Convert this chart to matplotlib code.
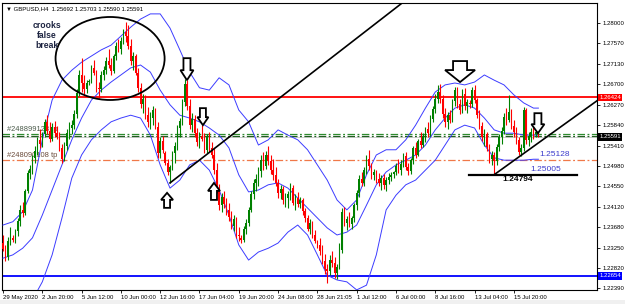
import matplotlib
matplotlib.use("Agg")
import matplotlib.pyplot as plt
import numpy as np
from matplotlib.patches import Ellipse, Polygon

# GBPUSD H4, 29 May 2020 08:00 .. 17 Jul 2020 12:00 (one short Sunday bar per weekend)
opens = [
    1.2335, 1.2322, 1.2305, 1.2340, 1.2345,
    1.2342, 1.2360, 1.2382, 1.2405, 1.2398, 1.2445,
    1.2482, 1.2492, 1.2515, 1.2530, 1.2552, 1.2545,
    1.2565, 1.2590, 1.2572, 1.2555, 1.2580, 1.2568,
    1.2562, 1.2535, 1.2512, 1.2540, 1.2568, 1.2578,
    1.2585, 1.2608, 1.2652, 1.2690, 1.2672, 1.2660, 1.2675,
    1.2678, 1.2705, 1.2695, 1.2662, 1.2660, 1.2690,
    1.2700, 1.2720, 1.2712, 1.2698, 1.2730, 1.2752,
    1.2745, 1.2762, 1.2780, 1.2772, 1.2752, 1.2720,
    1.2730, 1.2695, 1.2662, 1.2628, 1.2640, 1.2605,
    1.2590, 1.2600, 1.2615, 1.2580, 1.2525, 1.2550, 1.2525,
    1.2505, 1.2485, 1.2495, 1.2525, 1.2540, 1.2578,
    1.2592, 1.2632, 1.2670, 1.2625, 1.2585, 1.2598,
    1.2568, 1.2548, 1.2562, 1.2555, 1.2532, 1.2558,
    1.2535, 1.2522, 1.2490, 1.2448, 1.2415, 1.2432,
    1.2418, 1.2405, 1.2390, 1.2372, 1.2385, 1.2352, 1.2345,
    1.2342, 1.2365, 1.2378, 1.2405, 1.2438, 1.2462,
    1.2470, 1.2488, 1.2510, 1.2498, 1.2522, 1.2508,
    1.2490, 1.2478, 1.2462, 1.2440, 1.2450, 1.2425,
    1.2430, 1.2438, 1.2452, 1.2420, 1.2430, 1.2418,
    1.2425, 1.2402, 1.2388, 1.2365, 1.2378, 1.2352, 1.2335,
    1.2330, 1.2318, 1.2298, 1.2280, 1.2275, 1.2300,
    1.2292, 1.2272, 1.2285, 1.2320, 1.2400, 1.2378,
    1.2385, 1.2375, 1.2388, 1.2415, 1.2440, 1.2470,
    1.2462, 1.2490, 1.2512, 1.2498, 1.2478, 1.2485,
    1.2470, 1.2462, 1.2472, 1.2458, 1.2468, 1.2475, 1.2480,
    1.2485, 1.2498, 1.2490, 1.2502, 1.2518, 1.2495,
    1.2488, 1.2510, 1.2535, 1.2522, 1.2550, 1.2542,
    1.2560, 1.2575, 1.2568, 1.2598, 1.2618, 1.2640,
    1.2655, 1.2640, 1.2608, 1.2590, 1.2605, 1.2595,
    1.2635, 1.2658, 1.2628, 1.2615, 1.2650, 1.2625, 1.2630,
    1.2628, 1.2658, 1.2638, 1.2605, 1.2582, 1.2558,
    1.2565, 1.2538, 1.2512, 1.2520, 1.2508, 1.2538,
    1.2558, 1.2572, 1.2602, 1.2595, 1.2612, 1.2582,
    1.2570, 1.2552, 1.2528, 1.2535, 1.2615, 1.2552,
    1.2562, 1.2570, 1.2565, 1.25692,
]
highs = [
    1.2352, 1.2330, 1.2348, 1.2368, 1.2352,
    1.2365, 1.2388, 1.2415, 1.2422, 1.2450, 1.2490,
    1.2500, 1.2520, 1.2540, 1.2560, 1.2575, 1.2570,
    1.2598, 1.2605, 1.2590, 1.2588, 1.2592, 1.2582,
    1.2570, 1.2545, 1.2548, 1.2575, 1.2590, 1.2595,
    1.2615, 1.2660, 1.2700, 1.2725, 1.2690, 1.2680, 1.2682,
    1.2712, 1.2722, 1.2700, 1.2675, 1.2698, 1.2708,
    1.2728, 1.2745, 1.2725, 1.2735, 1.2760, 1.2765,
    1.2770, 1.2788, 1.2802, 1.2795, 1.2765, 1.2738,
    1.2735, 1.2705, 1.2672, 1.2650, 1.2648, 1.2622,
    1.2612, 1.2625, 1.2620, 1.2590, 1.2558, 1.2562, 1.2530,
    1.2512, 1.2500, 1.2530, 1.2548, 1.2585, 1.2600,
    1.2640, 1.2682, 1.2680, 1.2640, 1.2610, 1.2605,
    1.2578, 1.2570, 1.2585, 1.2568, 1.2565, 1.2570,
    1.2548, 1.2535, 1.2505, 1.2460, 1.2440, 1.2445,
    1.2430, 1.2420, 1.2402, 1.2395, 1.2390, 1.2368, 1.2352,
    1.2370, 1.2385, 1.2412, 1.2445, 1.2470, 1.2480,
    1.2495, 1.2520, 1.2528, 1.2530, 1.2540, 1.2520,
    1.2512, 1.2495, 1.2470, 1.2458, 1.2455, 1.2440,
    1.2445, 1.2462, 1.2458, 1.2438, 1.2442, 1.2432,
    1.2430, 1.2410, 1.2395, 1.2385, 1.2382, 1.2362, 1.2342,
    1.2345, 1.2330, 1.2312, 1.2290, 1.2310, 1.2318,
    1.2305, 1.2290, 1.2335, 1.2410, 1.2412, 1.2392,
    1.2400, 1.2392, 1.2420, 1.2448, 1.2478, 1.2485,
    1.2495, 1.2520, 1.2532, 1.2505, 1.2492, 1.2490,
    1.2482, 1.2478, 1.2480, 1.2475, 1.2482, 1.2485, 1.2488,
    1.2505, 1.2512, 1.2510, 1.2525, 1.2528, 1.2505,
    1.2515, 1.2540, 1.2548, 1.2555, 1.2570, 1.2568,
    1.2580, 1.2590, 1.2605, 1.2625, 1.2650, 1.2668,
    1.2670, 1.2648, 1.2620, 1.2612, 1.2615, 1.2640,
    1.2665, 1.2665, 1.2640, 1.2660, 1.2662, 1.2640, 1.2638,
    1.2665, 1.2668, 1.2642, 1.2615, 1.2590, 1.2575,
    1.2570, 1.2545, 1.2530, 1.2528, 1.2545, 1.2565,
    1.2580, 1.2610, 1.2620, 1.2648, 1.2618, 1.2595,
    1.2580, 1.2560, 1.2545, 1.2622, 1.2620, 1.2570,
    1.2578, 1.2580, 1.2575, 1.25703,
]
lows = [
    1.2318, 1.2298, 1.2300, 1.2330, 1.2338,
    1.2335, 1.2350, 1.2372, 1.2390, 1.2395, 1.2440,
    1.2470, 1.2480, 1.2505, 1.2520, 1.2535, 1.2538,
    1.2558, 1.2565, 1.2548, 1.2550, 1.2560, 1.2555,
    1.2530, 1.2505, 1.2508, 1.2532, 1.2555, 1.2565,
    1.2575, 1.2600, 1.2645, 1.2655, 1.2650, 1.2652, 1.2668,
    1.2672, 1.2690, 1.2655, 1.2642, 1.2655, 1.2680,
    1.2692, 1.2705, 1.2690, 1.2695, 1.2722, 1.2738,
    1.2735, 1.2755, 1.2760, 1.2745, 1.2712, 1.2700,
    1.2690, 1.2655, 1.2620, 1.2610, 1.2598, 1.2580,
    1.2575, 1.2585, 1.2575, 1.2515, 1.2515, 1.2525, 1.2500,
    1.2478, 1.2462, 1.2490, 1.2505, 1.2532, 1.2560,
    1.2585, 1.2625, 1.2615, 1.2575, 1.2570, 1.2560,
    1.2540, 1.2535, 1.2550, 1.2525, 1.2525, 1.2528,
    1.2515, 1.2480, 1.2440, 1.2405, 1.2400, 1.2410,
    1.2395, 1.2382, 1.2365, 1.2360, 1.2345, 1.2340, 1.2336,
    1.2338, 1.2355, 1.2372, 1.2400, 1.2428, 1.2445,
    1.2455, 1.2475, 1.2490, 1.2492, 1.2500, 1.2480,
    1.2468, 1.2455, 1.2430, 1.2428, 1.2418, 1.2412,
    1.2410, 1.2425, 1.2415, 1.2405, 1.2412, 1.2408,
    1.2395, 1.2380, 1.2360, 1.2355, 1.2345, 1.2335, 1.2325,
    1.2310, 1.2290, 1.2270, 1.2251, 1.2268, 1.2285,
    1.2262, 1.2258, 1.2280, 1.2315, 1.2370, 1.2362,
    1.2368, 1.2365, 1.2380, 1.2405, 1.2432, 1.2455,
    1.2455, 1.2480, 1.2490, 1.2470, 1.2468, 1.2462,
    1.2455, 1.2448, 1.2450, 1.2445, 1.2460, 1.2465, 1.2472,
    1.2478, 1.2482, 1.2478, 1.2495, 1.2490, 1.2478,
    1.2480, 1.2502, 1.2515, 1.2518, 1.2535, 1.2538,
    1.2548, 1.2560, 1.2562, 1.2590, 1.2610, 1.2630,
    1.2630, 1.2600, 1.2580, 1.2575, 1.2588, 1.2590,
    1.2625, 1.2620, 1.2608, 1.2610, 1.2615, 1.2610, 1.2620,
    1.2622, 1.2630, 1.2600, 1.2575, 1.2550, 1.2540,
    1.2530, 1.2505, 1.2500, 1.24794, 1.2500, 1.2530,
    1.2545, 1.2565, 1.2585, 1.2590, 1.2575, 1.2560,
    1.2545, 1.2520, 1.2518, 1.2530, 1.2545, 1.2540,
    1.2548, 1.2555, 1.2558, 1.25590,
]
closes = [
    1.2322, 1.2305, 1.2340, 1.2348, 1.2342,
    1.2360, 1.2382, 1.2405, 1.2398, 1.2445, 1.2482,
    1.2492, 1.2515, 1.2530, 1.2552, 1.2545, 1.2565,
    1.2590, 1.2572, 1.2555, 1.2580, 1.2568, 1.2562,
    1.2535, 1.2512, 1.2540, 1.2568, 1.2578, 1.2585,
    1.2608, 1.2652, 1.2690, 1.2672, 1.2660, 1.2672, 1.2678,
    1.2705, 1.2695, 1.2662, 1.2660, 1.2690, 1.2700,
    1.2720, 1.2712, 1.2698, 1.2730, 1.2752, 1.2745,
    1.2762, 1.2780, 1.2772, 1.2752, 1.2720, 1.2730,
    1.2695, 1.2662, 1.2628, 1.2640, 1.2605, 1.2590,
    1.2600, 1.2615, 1.2580, 1.2525, 1.2550, 1.2532, 1.2505,
    1.2485, 1.2495, 1.2525, 1.2540, 1.2578, 1.2592,
    1.2632, 1.2670, 1.2625, 1.2585, 1.2598, 1.2568,
    1.2548, 1.2562, 1.2555, 1.2532, 1.2558, 1.2535,
    1.2522, 1.2490, 1.2448, 1.2415, 1.2432, 1.2418,
    1.2405, 1.2390, 1.2372, 1.2385, 1.2352, 1.2350, 1.2342,
    1.2365, 1.2378, 1.2405, 1.2438, 1.2462, 1.2470,
    1.2488, 1.2510, 1.2498, 1.2522, 1.2508, 1.2490,
    1.2478, 1.2462, 1.2440, 1.2450, 1.2425, 1.2430,
    1.2438, 1.2452, 1.2420, 1.2430, 1.2418, 1.2425,
    1.2402, 1.2388, 1.2365, 1.2378, 1.2352, 1.2340, 1.2330,
    1.2318, 1.2298, 1.2280, 1.2275, 1.2300, 1.2292,
    1.2272, 1.2285, 1.2320, 1.2400, 1.2378, 1.2385,
    1.2375, 1.2388, 1.2415, 1.2440, 1.2470, 1.2462,
    1.2490, 1.2512, 1.2498, 1.2478, 1.2485, 1.2470,
    1.2462, 1.2472, 1.2458, 1.2468, 1.2475, 1.2478, 1.2485,
    1.2498, 1.2490, 1.2502, 1.2518, 1.2495, 1.2488,
    1.2510, 1.2535, 1.2522, 1.2550, 1.2542, 1.2560,
    1.2575, 1.2568, 1.2598, 1.2618, 1.2640, 1.2655,
    1.2640, 1.2608, 1.2590, 1.2605, 1.2595, 1.2635,
    1.2658, 1.2628, 1.2615, 1.2650, 1.2625, 1.2632, 1.2628,
    1.2658, 1.2638, 1.2605, 1.2582, 1.2558, 1.2565,
    1.2538, 1.2512, 1.2520, 1.2508, 1.2538, 1.2558,
    1.2572, 1.2602, 1.2595, 1.2612, 1.2582, 1.2570,
    1.2552, 1.2528, 1.2535, 1.2615, 1.2552, 1.2562,
    1.2570, 1.2565, 1.25692, 1.25591,
]

# Bollinger bands every 4 bars
band_bars = list(range(0, 217, 4)) + [218]
bb_upper = [
    1.2373, 1.2380, 1.2401, 1.2447, 1.2553, 1.2637, 1.2679, 1.2700, 1.2717, 1.2730,
    1.2743, 1.2753, 1.2772, 1.2791, 1.2808, 1.2819, 1.2819, 1.2789, 1.2743, 1.2696,
    1.2663, 1.2658, 1.2684, 1.2669, 1.2616, 1.2591, 1.2542, 1.2553, 1.2574, 1.2563,
    1.2553, 1.2532, 1.2500, 1.2468, 1.2426, 1.2405, 1.2426, 1.2479, 1.2521, 1.2532,
    1.2532, 1.2553, 1.2584, 1.2620, 1.2654, 1.2669, 1.2673, 1.2669, 1.2675, 1.2690,
    1.2679, 1.2669, 1.2648, 1.2631, 1.2620, 1.2620,
]
bb_middle = [
    1.2303, 1.2310, 1.2324, 1.2346, 1.2394, 1.2447, 1.2500, 1.2553, 1.2599, 1.2637,
    1.2658, 1.2675, 1.2690, 1.2705, 1.2711, 1.2696, 1.2658, 1.2627, 1.2605, 1.2599,
    1.2591, 1.2578, 1.2563, 1.2536, 1.2479, 1.2443, 1.2447, 1.2458, 1.2462, 1.2451,
    1.2430, 1.2409, 1.2388, 1.2367, 1.2352, 1.2358, 1.2373, 1.2415, 1.2458, 1.2485,
    1.2500, 1.2510, 1.2521, 1.2542, 1.2574, 1.2599, 1.2620, 1.2627, 1.2620, 1.2599,
    1.2574, 1.2567, 1.2567, 1.2563, 1.2563, 1.2563,
]
bb_lower = [
    1.2215, 1.2210, 1.2204, 1.2215, 1.2253, 1.2310, 1.2388, 1.2472, 1.2521, 1.2553,
    1.2574, 1.2591, 1.2599, 1.2605, 1.2599, 1.2563, 1.2500, 1.2451, 1.2468, 1.2500,
    1.2510, 1.2489, 1.2447, 1.2394, 1.2331, 1.2299, 1.2316, 1.2324, 1.2335, 1.2358,
    1.2373, 1.2352, 1.2310, 1.2267, 1.2257, 1.2253, 1.2236, 1.2246, 1.2310, 1.2405,
    1.2436, 1.2458, 1.2468, 1.2489, 1.2510, 1.2542, 1.2574, 1.2584, 1.2578, 1.2542,
    1.2515, 1.2510, 1.2510, 1.2510, 1.2512, 1.2512,
]

price_ticks = [1.28000, 1.27570, 1.27130, 1.26700, 1.26270, 1.25840, 1.25410,
               1.24980, 1.24550, 1.24120, 1.23680, 1.23250, 1.22820, 1.22390]
date_ticks = list(range(0, 209, 16))
date_labels = ["29 May 2020", "2 Jun 20:00", "5 Jun 12:00", "10 Jun 00:00",
               "12 Jun 16:00", "17 Jun 04:00", "19 Jun 20:00", "24 Jun 08:00",
               "28 Jun 21:05", "1 Jul 12:00", "6 Jul 00:00", "8 Jul 16:00",
               "13 Jul 04:00", "15 Jul 20:00"]

resistance = 1.26424
support = 1.22654
bid = 1.25591
tp_levels = [1.25655, 1.25615]
tp_low = 1.25100
low_mark = 1.24794
trend1 = ([68, 164], [1.2462, 1.2848])
trend2 = ([200, 242], [1.24794, 1.2636])

XMIN, XMAX = -0.41, 241.86
YMIN, YMAX = 1.22358, 1.28420
AX_W, AX_H = 595, 287

FONT = ["Liberation Sans", "DejaVu Sans"]
AXIS_FS = 4.3


def hollow_arrow(ax, x, tip, w_head, h_head, w_stem, h_stem, up=False):
    sx = (XMAX - XMIN) / AX_W
    sy = (YMAX - YMIN) / AX_H
    s = -1 if up else 1
    pts = [(0, 0), (w_head / 2, h_head), (w_stem / 2, h_head), (w_stem / 2, h_head + h_stem),
           (-w_stem / 2, h_head + h_stem), (-w_stem / 2, h_head), (-w_head / 2, h_head)]
    xy = [(x + dx * sx, tip + s * dy * sy) for dx, dy in pts]
    ax.add_patch(Polygon(xy, closed=True, fc="white", ec="black", lw=1.3, zorder=8))


fig = plt.figure(figsize=(6.25, 3.04), dpi=100)
fig.patch.set_facecolor("white")
ax = fig.add_axes([2 / 625, 14 / 304, AX_W / 625, AX_H / 304])
ax.set_xlim(XMIN, XMAX)
ax.set_ylim(YMIN, YMAX)

o = np.array(opens)
h = np.array(highs)
l = np.array(lows)
c = np.array(closes)
x = np.arange(len(c))
up = c >= o
col = np.where(up, "#008000", "#ff0000")

# levels
ax.axhline(resistance, color="#ff0000", lw=1.3, zorder=2)
ax.axhline(support, color="#0000ff", lw=1.3, zorder=2)
ax.axhline(bid, color="#c8c8c8", lw=0.6, zorder=1)
ax.axhline(tp_levels[0], color="#2e8b2e", lw=0.9, ls=(0, (6, 2, 1.5, 2)), zorder=2)
ax.axhline(tp_levels[1], color="#1f5f1f", lw=0.9, ls=(0, (6, 2, 1.5, 2)), zorder=2)
ax.axhline(tp_low, color="#f07848", lw=0.9, ls=(0, (6, 2, 1.5, 2)), zorder=2)
ax.text(1.5, tp_levels[0] + 0.00015, "#248899128 tp", fontsize=5.4, color="#4a5a4a",
        family=FONT, va="bottom", zorder=2)
ax.text(1.5, tp_low + 0.00015, "#248090108 tp", fontsize=5.4, color="#6a4a3a",
        family=FONT, va="bottom", zorder=2)

# bollinger bands
for band in (bb_upper, bb_middle, bb_lower):
    ax.plot(band_bars, band, color="#3c3cff", lw=0.7, zorder=3)

# candles
ax.vlines(x, l, h, colors=col, lw=0.8, zorder=4)
body = np.maximum(np.abs(c - o), 0.00008)
ax.bar(x, body, bottom=np.minimum(o, c), width=0.62, color=col, lw=0, zorder=5)

# drawings
ax.plot(*trend1, color="black", lw=1.2, zorder=6)
ax.plot(*trend2, color="black", lw=1.2, zorder=6)
ax.plot([189.7, 233.7], [low_mark, low_mark], color="black", lw=1.6, zorder=6)
ax.text(209.5, low_mark - 0.0003, "1.24794", fontsize=6, fontweight="bold", color="black",
        ha="center", va="top", family=FONT, zorder=7)
ax.text(224.5, 1.2521, "1.25128", fontsize=6, color="#3c3ccc", ha="center", va="center",
        family=FONT, zorder=7)
ax.text(221.0, 1.2491, "1.25005", fontsize=6, color="#3c3ccc", ha="center", va="center",
        family=FONT, zorder=7)

ax.add_patch(Ellipse((43.6, 1.27248), 44.4, 0.01753, fill=False, ec="black", lw=1.3, zorder=7))
ax.text(17.9, 1.2774, "crooks\nfalse\nbreak", fontsize=6.2, fontweight="bold", color="#1c2340",
        ha="center", va="center", linespacing=1.15, family=FONT, zorder=7)

hollow_arrow(ax, 186.1, 1.2675, 30, 12, 14, 9)
hollow_arrow(ax, 217.8, 1.2567, 13, 9, 7, 11)
hollow_arrow(ax, 74.9, 1.2679, 13, 10, 7, 12)
hollow_arrow(ax, 81.4, 1.2584, 11, 8, 6, 9)
hollow_arrow(ax, 66.8, 1.2441, 12, 7, 6, 8, up=True)
hollow_arrow(ax, 85.9, 1.2462, 12, 8, 6, 9, up=True)

ax.text(0.006, 0.988, "\u25bc GBPUSD,H4  1.25692 1.25703 1.25590 1.25591", transform=ax.transAxes,
        fontsize=4.3, va="top", ha="left", family=FONT, zorder=9)

# axes
for sp in ax.spines.values():
    sp.set_color("black")
    sp.set_linewidth(0.8)
ax.yaxis.tick_right()
ax.set_yticks(price_ticks)
ax.set_yticklabels([f"{p:.5f}" for p in price_ticks])
ax.set_xticks(date_ticks)
ax.set_xticklabels(date_labels, ha="left")
ax.tick_params(axis="y", length=2.5, width=0.6, pad=1.5, labelsize=AXIS_FS, colors="black")
ax.tick_params(axis="x", length=2.5, width=0.6, pad=1.0, labelsize=AXIS_FS, colors="black")
for t in ax.get_xticklabels() + ax.get_yticklabels():
    t.set_family(FONT)

for price, bg in ((resistance, "#ff0000"), (bid, "#000000"), (support, "#0000ff")):
    ax.text(1.004, price, f"{price:.5f}", transform=ax.get_yaxis_transform(), fontsize=AXIS_FS,
            color="white", va="center", ha="left", family=FONT, zorder=10, clip_on=False,
            bbox=dict(boxstyle="square,pad=0.2", fc=bg, ec="none"))

fig.patches.append(plt.Rectangle((0, 0), 1, 4 / 304, transform=fig.transFigure,
                                 fc="#f0f0f0", ec="none", zorder=0))

fig.savefig("out.png", dpi=100)
